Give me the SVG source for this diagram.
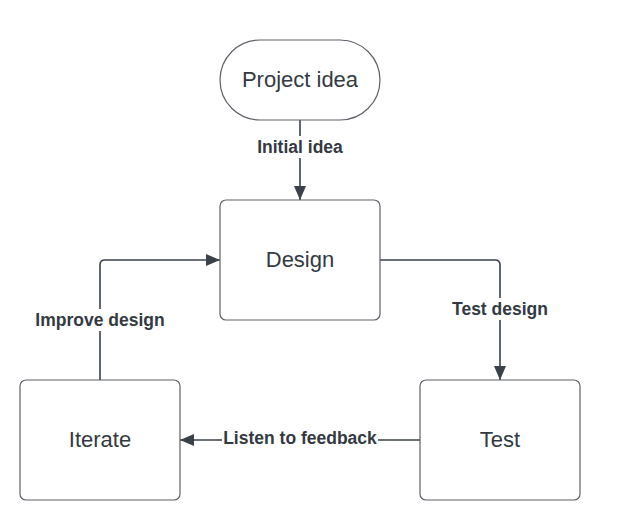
<svg xmlns="http://www.w3.org/2000/svg" width="617" height="532" viewBox="0 0 617 532">
<style>
.node{fill:#ffffff;stroke:#5e6168;stroke-width:1.2}
.ntext{font-family:"Liberation Sans",Arial,sans-serif;font-size:22px;fill:#333a42;text-anchor:middle;dominant-baseline:central}
.edge{fill:none;stroke:#3a414a;stroke-width:1.6}
.lbg{fill:#ffffff}
.ltext{font-family:"Liberation Sans",Arial,sans-serif;font-size:17.5px;font-weight:bold;fill:#333a42;text-anchor:middle;dominant-baseline:central}
</style>
<defs>
<marker id="arr" viewBox="0 0 14 12" refX="14" refY="6" markerWidth="14" markerHeight="12" markerUnits="userSpaceOnUse" orient="auto">
<path d="M0,0 L14,6 L0,12 Z" fill="#3a414a"/>
</marker>
</defs>
<rect width="617" height="532" fill="#ffffff"/>
<g id="connectors">
<path class="edge" d="M300,120 L300,200" marker-end="url(#arr)"/>
<path class="edge" d="M380,260 L495,260 Q500,260 500,265 L500,380" marker-end="url(#arr)"/>
<path class="edge" d="M420,440 L180,440" marker-end="url(#arr)"/>
<path class="edge" d="M100,380 L100,265 Q100,260 105,260 L220,260" marker-end="url(#arr)"/>
<rect class="lbg" x="256" y="136" width="88" height="22"/>
<text class="ltext" x="300" y="147">Initial idea</text>
<rect class="lbg" x="451" y="298" width="98" height="22"/>
<text class="ltext" x="500" y="309">Test design</text>
<rect class="lbg" x="222" y="427" width="156" height="22"/>
<text class="ltext" x="300" y="438">Listen to feedback</text>
<rect class="lbg" x="35" y="309" width="130" height="22"/>
<text class="ltext" x="100" y="320">Improve design</text>
</g>
<g id="project-idea">
<rect class="node" x="220" y="40" width="160" height="80" rx="40" ry="40"/>
<text class="ntext" x="300" y="79">Project idea</text>
</g>
<g id="design">
<rect class="node" x="220" y="200" width="160" height="120" rx="6" ry="6"/>
<text class="ntext" x="300" y="259">Design</text>
</g>
<g id="test">
<rect class="node" x="420" y="380" width="160" height="120" rx="6" ry="6"/>
<text class="ntext" x="500" y="439">Test</text>
</g>
<g id="iterate">
<rect class="node" x="20" y="380" width="160" height="120" rx="6" ry="6"/>
<text class="ntext" x="100" y="439">Iterate</text>
</g>
</svg>
